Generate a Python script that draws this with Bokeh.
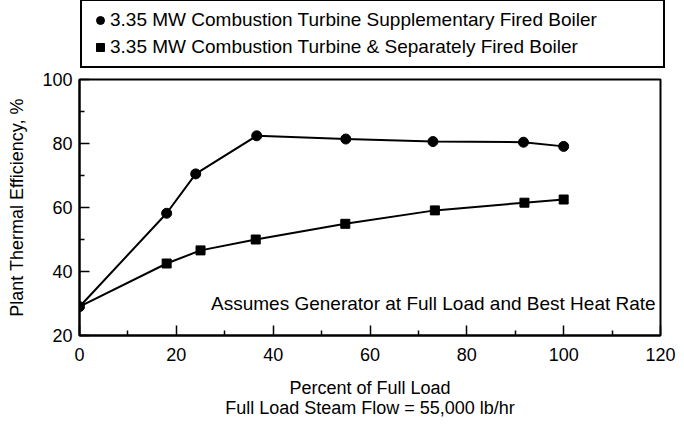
from bokeh.plotting import figure
from bokeh.layouts import column
from bokeh.models import Legend, LegendItem, Label, Range1d, FixedTicker
from bokeh.embed import file_html
from bokeh.resources import INLINE

# Data
load_fired = [0, 18, 24, 36.6, 55, 73, 91.7, 100]
eff_fired = [29, 58.2, 70.5, 82.4, 81.4, 80.6, 80.4, 79.1]
load_sep = [0, 18, 25, 36.4, 54.9, 73.4, 91.9, 100]
eff_sep = [29, 42.5, 46.6, 50, 54.9, 59.1, 61.5, 62.5]
name_fired = "3.35 MW Combustion Turbine Supplementary Fired Boiler"
name_sep = "3.35 MW Combustion Turbine & Separately Fired Boiler"
x_ticks = [0, 20, 40, 60, 80, 100, 120]
y_ticks = [20, 40, 60, 80, 100]

FONT = "Liberation Sans"

# ---------------- main chart ----------------
p = figure(width=684, height=354, output_backend="svg", toolbar_location=None,
           min_border_left=79, min_border_top=8, min_border_right=24, min_border_bottom=90,
           frame_width=581, frame_height=256, frame_align=False,
           x_range=Range1d(0, 120), y_range=Range1d(20, 100))
p.background_fill_color = "white"
p.border_fill_color = "white"
p.outline_line_color = "black"
p.outline_line_width = 2
p.xgrid.visible = False
p.ygrid.visible = False

for ax, ticks in ((p.xaxis[0], x_ticks), (p.yaxis[0], y_ticks)):
    ax.ticker = FixedTicker(ticks=ticks, minor_ticks=[t + 10 for t in ticks[:-1]])
    ax.axis_line_width = 2
    ax.axis_line_color = "black"
    ax.major_tick_in = 10
    ax.major_tick_out = 0
    ax.minor_tick_in = 5
    ax.minor_tick_out = 0
    ax.major_tick_line_width = 1.5
    ax.minor_tick_line_width = 1.5
    ax.major_tick_line_color = "black"
    ax.minor_tick_line_color = "black"
    ax.major_label_text_font = FONT
    ax.major_label_text_font_size = "18px"
    ax.major_label_text_color = "black"
    ax.axis_label_text_font = FONT
    ax.axis_label_text_font_size = "18px"
    ax.axis_label_text_font_style = "normal"
    ax.axis_label_text_color = "black"

p.xaxis.axis_label = "Percent of Full Load\nFull Load Steam Flow = 55,000 lb/hr"
p.xaxis.axis_label_text_line_height = 1.0
p.xaxis.major_label_standoff = 12
p.xaxis.axis_label_standoff = 14
p.yaxis.axis_label = "Plant Thermal Efficiency, %"
p.yaxis.major_label_standoff = 7
p.yaxis.axis_label_standoff = 12

p.line(load_sep, eff_sep, line_color="black", line_width=2)
p.line(load_fired, eff_fired, line_color="black", line_width=2)
p.scatter(load_sep[1:], eff_sep[1:], marker="square", size=9,
          fill_color="black", line_color="black")
p.scatter(load_fired, eff_fired, marker="circle", size=10,
          fill_color="black", line_color="black")

note = Label(x=119, y=30, text="Assumes Generator at Full Load and Best Heat Rate",
             text_align="right", text_baseline="middle",
             text_font=FONT, text_font_size="19px", text_color="black")
p.add_layout(note)

# ---------------- legend strip on top ----------------
lg = figure(width=684, height=71, output_backend="svg", toolbar_location=None,
            min_border=0, x_axis_type=None, y_axis_type=None, frame_align=False,
            x_range=Range1d(1000, 1001), y_range=Range1d(1000, 1001))
lg.outline_line_color = None
lg.xgrid.visible = False
lg.ygrid.visible = False
lg.background_fill_color = "white"
lg.border_fill_color = "white"
# same series drawn here (outside the visible range) so the legend can show their markers
lr_fired = lg.scatter(load_fired, eff_fired, marker="circle", size=10,
                      fill_color="black", line_color="black")
lr_sep = lg.scatter(load_sep[1:], eff_sep[1:], marker="square", size=9,
                    fill_color="black", line_color="black")

legend = Legend(items=[LegendItem(label=name_fired, renderers=[lr_fired]),
                       LegendItem(label=name_sep, renderers=[lr_sep])],
                location=(80, 3), orientation="vertical",
                padding=8, spacing=5, glyph_height=20, glyph_width=20,
                label_standoff=0, label_width=545, margin=0,
                label_text_font=FONT, label_text_font_size="19px",
                label_text_color="black",
                border_line_color="black", border_line_width=2, border_line_alpha=1.0,
                background_fill_color="white", background_fill_alpha=1.0)
lg.add_layout(legend, "center")

layout = column(lg, p, spacing=0)
open("out.html", "w").write(file_html(layout, INLINE))
